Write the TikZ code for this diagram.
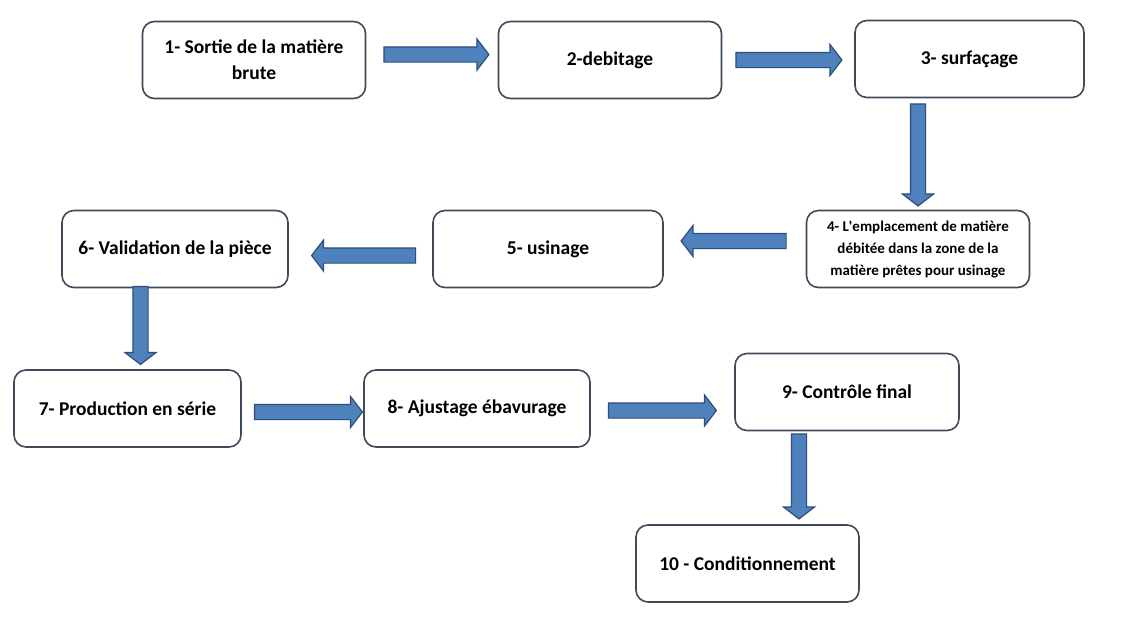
\documentclass[tikz,border=0pt]{standalone}
\usepackage{fontspec}
\setmainfont{Carlito}
\usetikzlibrary{shapes.arrows}

\definecolor{boxline}{HTML}{404B5A}
\definecolor{arrowfill}{HTML}{4F81BD}
\definecolor{arrowline}{HTML}{2F4F7A}

\begin{document}
\begin{tikzpicture}[x=1pt, y=-1pt]
        % Styles
        \tikzstyle{stepbox} = [draw=boxline, line width=1.6pt, rounded corners=12pt, fill=white, minimum width=223pt, minimum height=77pt, align=center, inner sep=2pt, font=\bfseries\fontsize{19.5}{26}\selectfont]
        \tikzstyle{flowarrow} = [single arrow, draw=arrowline, fill=arrowfill, line width=1.2pt, inner sep=7pt, single arrow head extend=8pt, single arrow tip angle=105]

        \useasboundingbox (0,0) rectangle (1137,619);

        % Etapes
        \node [stepbox] (s1) at (254,60) {1- Sortie de la matière\\brute};
        \node [stepbox] (s2) at (610,60) {2-debitage};
        \node [stepbox, minimum width=229pt] (s3) at (969.5,59) {3- surfaçage};
        \node [stepbox, font=\bfseries\fontsize{15}{22}\selectfont] (s4) at (918,249) {4- L\textquotesingle emplacement de matière\\débitée dans la zone de la\\matière prêtes pour usinage};
        \node [stepbox, minimum width=230pt] (s5) at (548,249) {5- usinage};
        \node [stepbox, minimum width=226pt] (s6) at (175,249) {6- Validation de la pièce};
        \node [stepbox, minimum width=227pt] (s7) at (127.5,408.5) {7- Production en série};
        \node [stepbox, minimum width=226pt] (s8) at (477,408.5) {8- Ajustage ébavurage};
        \node [stepbox, minimum width=224pt] (s9) at (847,392) {9- Contrôle final};
        \node [stepbox] (s10) at (747.5,563.5) {10 - Conditionnement};

        % Fleches
        \node [flowarrow, minimum height=105pt, anchor=tail] (a12) at ([xshift=17pt, yshift=5.5pt]s1.east) {};
        \node [flowarrow, minimum height=106pt, anchor=tail] (a23) at ([xshift=13pt]s2.east) {};
        \node [flowarrow, minimum height=102pt, rotate=-90, anchor=tip] (a34) at ([yshift=3pt]s4.north) {};
        \node [flowarrow, minimum height=105pt, rotate=180, anchor=tail] (a45) at ([xshift=-19pt, yshift=8pt]s4.west) {};
        \node [flowarrow, minimum height=104pt, rotate=180, anchor=tail] (a56) at ([xshift=-16pt, yshift=-6.5pt]s5.west) {};
        \node [flowarrow, minimum height=78pt, rotate=-90, anchor=tip] (a67) at ([xshift=13pt, yshift=4pt]s7.north) {};
        \node [flowarrow, minimum height=108pt, anchor=tail] (a78) at ([xshift=12pt, yshift=-3.5pt]s7.east) {};
        \node [flowarrow, minimum height=108pt, anchor=tail] (a89) at ([xshift=17pt, yshift=-2pt]s8.east) {};
        \node [flowarrow, minimum height=85pt, rotate=-90, anchor=tail] (a910) at ([xshift=-48pt, yshift=-2pt]s9.south) {};
\end{tikzpicture}
\end{document}
